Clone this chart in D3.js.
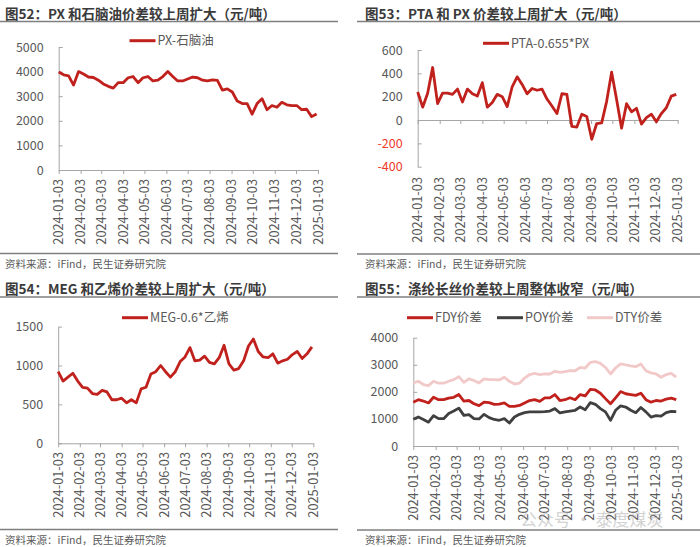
<!DOCTYPE html>
<html>
<head>
<meta charset="utf-8">
<script src="https://cdn.jsdelivr.net/npm/d3@7"></script>
<style>
  body { margin: 0; background: #fff; }
  text { font-family: "Noto Sans CJK SC", "Noto Sans", sans-serif; }
</style>
</head>
<body>
<svg id="chart" width="700" height="547"></svg>
<script>
// weekly observation dates
const weeks = [
  "2024-01-03","2024-01-10","2024-01-17","2024-01-24","2024-01-31","2024-02-07","2024-02-14",
  "2024-02-21","2024-02-28","2024-03-06","2024-03-13","2024-03-20","2024-03-27","2024-04-03",
  "2024-04-10","2024-04-17","2024-04-24","2024-05-01","2024-05-08","2024-05-15","2024-05-22",
  "2024-05-29","2024-06-05","2024-06-12","2024-06-19","2024-06-26","2024-07-03","2024-07-10",
  "2024-07-17","2024-07-24","2024-07-31","2024-08-07","2024-08-14","2024-08-21","2024-08-28",
  "2024-09-04","2024-09-11","2024-09-18","2024-09-25","2024-10-02","2024-10-09","2024-10-16",
  "2024-10-23","2024-10-30","2024-11-06","2024-11-13","2024-11-20","2024-11-27","2024-12-04",
  "2024-12-11","2024-12-18","2024-12-25","2025-01-01"
];

const monthTicks = [
  "2024-01-03","2024-02-03","2024-03-03","2024-04-03","2024-05-03","2024-06-03","2024-07-03",
  "2024-08-03","2024-09-03","2024-10-03","2024-11-03","2024-12-03","2025-01-03"
];

// 图52 PX-石脑油
const pxNaphtha = [
  3980,3870,3830,3450,4000,3900,3780,3760,3650,3500,3400,3330,3550,
  3550,3750,3800,3550,3750,3800,3620,3650,3800,4000,3800,3620,3620,3700,
  3780,3750,3650,3620,3660,3640,3250,3300,3170,2800,2700,2700,2270,2700,
  2900,2450,2620,2550,2750,2650,2620,2620,2450,2470,2170,2280
];

// 图53 PTA-0.655*PX
const ptaPx = [
  240,110,230,450,140,230,230,220,265,155,265,225,205,320,
  110,150,220,200,115,285,370,305,225,270,255,265,180,120,
  55,225,220,-55,-60,50,30,-165,-30,-25,160,410,175,-70,
  140,70,100,-35,20,50,-15,55,105,205,220
];

// 图54 MEG-0.6*乙烯
const megEthylene = [
  920,800,850,900,800,720,710,640,630,680,660,560,560,580,
  520,560,520,700,720,890,920,1000,920,850,920,1050,1110,1230,
  1060,1070,1120,1040,1020,1100,1260,1020,940,960,1060,1250,1340,1180,
  1110,1100,1150,1030,1060,1080,1140,1180,1090,1150,1240
];

// 图55 涤纶长丝价差
const fdySpread = [
  1620,1710,1660,1590,1800,1710,1710,1770,1800,1900,1660,1680,1560,1490,
  1620,1600,1540,1550,1590,1460,1460,1500,1590,1680,1710,1650,1780,1780,
  1900,1680,1710,1780,1710,1900,1850,2090,2070,1950,1750,1560,1780,2010,
  1930,1900,1870,1950,1710,1620,1680,1660,1730,1770,1710
];
const poySpread = [
  990,1070,980,880,1120,1010,1010,1200,1290,1400,1130,1160,1010,1000,
  1170,1050,980,950,1010,850,1070,1170,1230,1260,1260,1260,1270,1290,
  1380,1220,1260,1290,1320,1440,1340,1600,1540,1380,1260,950,1320,1480,
  1440,1320,1230,1420,1260,1070,1120,1100,1230,1280,1270
];
const dtySpread = [
  2330,2390,2270,2230,2390,2320,2320,2390,2450,2560,2350,2480,2420,2330,
  2480,2450,2450,2440,2540,2390,2290,2320,2510,2640,2680,2640,2660,2660,
  2760,2720,2750,2780,2780,2900,2880,3090,3120,3050,2900,2660,2880,3030,
  3000,2960,2930,3030,2780,2700,2660,2540,2640,2680,2540
];

const RED = "#c0211c";
const DARK = "#404040";
const PINK = "#f2c9c9";

const parse = d3.timeParse("%Y-%m-%d");
const weekDates = weeks.map(parse);
const tickDates = monthTicks.map(parse);

const panels = [
  {
    title: "图52：PX 和石脑油价差较上周扩大（元/吨）",
    titleX: 5, titleY: 18.5, ruleX: [0, 338], ruleTop: 21.5, ruleBottom: 253.5, sourceY: 268,
    left: 58.7, right: 318, top: 47, bottom: 170,
    yDomain: [0, 5000], yTicks: [0, 1000, 2000, 3000, 4000, 5000], xAt: 0, labelTop: 179,
    series: [{ name: "PX-石脑油", values: pxNaphtha, color: RED }],
    legend: [{ x: 129.5, y: 40.7 }]
  },
  {
    title: "图53：PTA 和 PX 价差较上周扩大（元/吨）",
    titleX: 365, titleY: 18.5, ruleX: [357, 700], ruleTop: 21.5, ruleBottom: 254, sourceY: 268,
    left: 417.7, right: 677.7, top: 50, bottom: 166.7,
    yDomain: [-400, 600], yTicks: [-400, -200, 0, 200, 400, 600], xAt: 0, labelTop: 177,
    series: [{ name: "PTA-0.655*PX", values: ptaPx, color: RED }],
    legend: [{ x: 483, y: 43.3 }]
  },
  {
    title: "图54：MEG 和乙烯价差较上周扩大（元/吨）",
    titleX: 5, titleY: 293.5, ruleX: [0, 338], ruleTop: 297, ruleBottom: 529.5, sourceY: 543.5,
    left: 58.2, right: 313.3, top: 326.6, bottom: 443.3,
    yDomain: [0, 1500], yTicks: [0, 500, 1000, 1500], xAt: 0, labelTop: 452,
    series: [{ name: "MEG-0.6*乙烯", values: megEthylene, color: RED }],
    legend: [{ x: 122, y: 317.7 }]
  },
  {
    title: "图55：涤纶长丝价差较上周整体收窄（元/吨）",
    titleX: 365, titleY: 293.5, ruleX: [357, 700], ruleTop: 297, ruleBottom: 530, sourceY: 543.5,
    left: 413.3, right: 677.7, top: 337.7, bottom: 446,
    yDomain: [0, 4000], yTicks: [0, 1000, 2000, 3000, 4000], xAt: 0, labelTop: 455,
    series: [
      { name: "DTY价差", values: dtySpread, color: PINK },
      { name: "POY价差", values: poySpread, color: DARK },
      { name: "FDY价差", values: fdySpread, color: RED }
    ],
    legend: [{ x: 587, y: 317.7 }, { x: 497, y: 317.7 }, { x: 407, y: 317.7 }]
  }
];

const svg = d3.select("#chart");

function drawPanel(p) {
  const g = svg.append("g");

  g.append("text")
    .attr("x", p.titleX).attr("y", p.titleY)
    .attr("font-size", 13.5).attr("font-weight", "bold").attr("fill", "#3a3a3a")
    .text(p.title);

  g.selectAll(".rule").data([p.ruleTop, p.ruleBottom]).join("line")
    .attr("x1", p.ruleX[0]).attr("x2", p.ruleX[1])
    .attr("y1", d => d).attr("y2", d => d)
    .attr("stroke", "#7f7f7f").attr("stroke-width", 1.6);

  g.append("text")
    .attr("x", p.titleX).attr("y", p.sourceY)
    .attr("font-size", 10.5).attr("fill", "#595959")
    .text("资料来源：iFind，民生证券研究院");

  const x = d3.scaleTime()
    .domain([tickDates[0], tickDates[tickDates.length - 1]])
    .range([p.left, p.right]);
  const y = d3.scaleLinear().domain(p.yDomain).range([p.bottom, p.top]);

  // y axis, ticks pointing inward
  const ya = g.append("g")
    .attr("transform", `translate(${p.left},0)`)
    .call(d3.axisRight(y).tickValues(p.yTicks).tickSize(4).tickSizeOuter(0).tickFormat(""));
  ya.selectAll("path, line").attr("stroke", "#a6a6a6");

  g.selectAll(".ylab").data(p.yTicks).join("text")
    .attr("x", p.left - 15).attr("y", d => y(d))
    .attr("dy", "0.36em").attr("text-anchor", "end")
    .attr("font-size", 12.5)
    .attr("fill", d => d < 0 ? "#ee3b2b" : "#595959")
    .text(d => d);

  // x axis on the zero line
  const xa = g.append("g")
    .attr("transform", `translate(0,${y(p.xAt)})`)
    .call(d3.axisBottom(x).tickValues(tickDates).tickSize(4).tickSizeOuter(0).tickFormat(""));
  xa.selectAll("path, line").attr("stroke", "#a6a6a6");

  g.selectAll(".xlab").data(tickDates).join("text")
    .attr("transform", (d) => `translate(${x(d)},${p.labelTop}) rotate(-90)`)
    .attr("dy", "0.36em").attr("text-anchor", "end")
    .attr("font-size", 12.8).attr("fill", "#595959")
    .text((d, i) => monthTicks[i]);

  const line = d3.line()
    .x((d, i) => x(weekDates[i]))
    .y(d => y(d));

  p.series.forEach((s, k) => {
    g.append("path")
      .datum(s.values)
      .attr("d", line)
      .attr("fill", "none")
      .attr("stroke", s.color)
      .attr("stroke-width", 2.8)
      .attr("stroke-linejoin", "round");

    const lg = p.legend[k];
    g.append("line")
      .attr("x1", lg.x).attr("x2", lg.x + 26)
      .attr("y1", lg.y).attr("y2", lg.y)
      .attr("stroke", s.color).attr("stroke-width", 3);
    g.append("text")
      .attr("x", lg.x + 28).attr("y", lg.y)
      .attr("dy", "0.36em")
      .attr("font-size", 12.5).attr("fill", "#595959")
      .text(s.name);
  });
}

panels.forEach(drawPanel);

// account watermark over the last panel
svg.append("text")
  .attr("x", 520).attr("y", 526)
  .attr("font-size", 17).attr("fill", "#b0b0b0").attr("opacity", 0.55)
  .text("公众号 · 泰度煤炭");
</script>
</body>
</html>
